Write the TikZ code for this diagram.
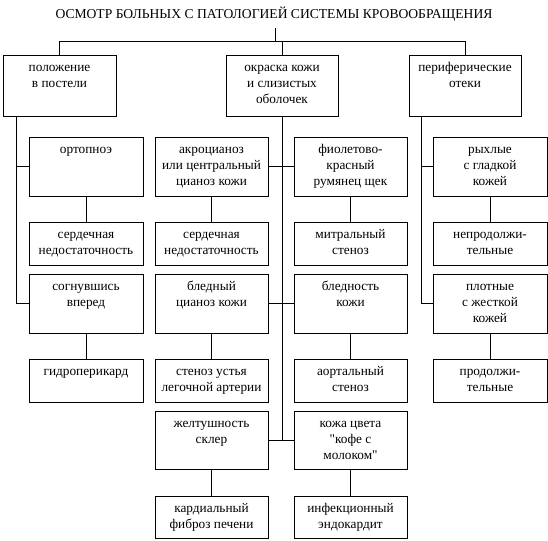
\documentclass[tikz,border=0pt]{standalone}
\usepackage{fontspec}
\setmainfont{Liberation Serif}[Ligatures=TeXOff]
\tikzset{
  boxst/.style={draw, line width=0.9pt, inner sep=0pt, rectangle},
  lbl/.style={inner sep=0pt, align=center, font={\fontsize{13.3}{15.7}\selectfont}},
  conn/.style={line width=0.9pt},
}
\newcommand\mybox[6]{%
  \node[boxst, minimum width={(#4-#2)*1pt}, minimum height={(#5-#3)*1pt}] (#1) at ({(#2+#4)/2},{(#3+#5)/2}) {};
  \node[lbl, anchor=north] (#1l) at ([yshift=-6pt]#1.north) {\strut #6};
}
\begin{document}
\begin{tikzpicture}[x=1pt,y=-1pt]
\useasboundingbox (0,0) rectangle (548,540);
\node[inner sep=0pt, font={\fontsize{13.6}{16}\selectfont}] (t) at (274,14) {ОСМОТР БОЛЬНЫХ С ПАТОЛОГИЕЙ СИСТЕМЫ КРОВООБРАЩЕНИЯ};
% top
\mybox{b1}{3}{55}{116}{116}{положение\\в постели}
\mybox{b2}{226}{55}{338}{116}{окраска кожи\\и слизистых\\оболочек}
\mybox{b3}{409}{55}{521}{116}{периферические\\отеки}
% row 1
\mybox{r1a}{29}{137}{143}{196}{ортопноэ}
\mybox{r1b}{155}{137}{268}{196}{акроцианоз\\или центральный\\цианоз кожи}
\mybox{r1c}{294}{137}{407}{196}{фиолетово-\\красный\\румянец щек}
\mybox{r1d}{433}{137}{547}{196}{рыхлые\\с гладкой\\кожей}
\mybox{k1a}{29}{222}{143}{265}{сердечная\\недостаточность}
\mybox{k1b}{155}{222}{268}{265}{сердечная\\недостаточность}
\mybox{k1c}{294}{222}{407}{265}{митральный\\стеноз}
\mybox{k1d}{433}{222}{547}{265}{непродолжи-\\тельные}
% row 2
\mybox{r2a}{29}{274}{143}{333}{согнувшись\\вперед}
\mybox{r2b}{155}{274}{268}{333}{бледный\\цианоз кожи}
\mybox{r2c}{294}{274}{407}{333}{бледность\\кожи}
\mybox{r2d}{433}{274}{547}{333}{плотные\\с жесткой\\кожей}
\mybox{k2a}{29}{359}{143}{402}{гидроперикард}
\mybox{k2b}{155}{359}{268}{402}{стеноз устья\\легочной артерии}
\mybox{k2c}{294}{359}{407}{402}{аортальный\\стеноз}
\mybox{k2d}{433}{359}{547}{402}{продолжи-\\тельные}
% row 3
\mybox{r3a}{155}{411}{268}{469}{желтушность\\склер}
\mybox{r3b}{294}{411}{407}{469}{кожа цвета\\"кофе с\\молоком"}
\mybox{k3a}{155}{496}{268}{538}{кардиальный\\фиброз печени}
\mybox{k3b}{294}{496}{407}{538}{инфекционный\\эндокардит}
% connectors
\coordinate (ts) at (275,28);
\coordinate (j0) at (275,41);
\coordinate (ls) at (16,0);
\coordinate (rs) at (421,0);
\draw[conn] (ts) -- (j0);
\draw[conn] (b1.north) -- (b1.north |- j0) -- (b3.north |- j0) -- (b3.north);
\draw[conn] (b2.north) -- (b2.north |- j0);
\draw[conn] (b1.south -| ls) -- (ls |- r2a.west) -- (r2a.west);
\draw[conn] (ls |- r1a.west) -- (r1a.west);
\draw[conn] (b2.south) -- (b2.south |- r3a.east);
\draw[conn] (r1b.east) -- (r1c.west);
\draw[conn] (r2b.east) -- (r2c.west);
\draw[conn] (r3a.east) -- (r3b.west);
\draw[conn] (b3.south -| rs) -- (rs |- r2d.west) -- (r2d.west);
\draw[conn] (rs |- r1d.west) -- (r1d.west);
\foreach \a/\b in {r1a/k1a,r1b/k1b,r1c/k1c,r1d/k1d,r2a/k2a,r2b/k2b,r2c/k2c,r2d/k2d,r3a/k3a,r3b/k3b}
  \draw[conn] (\a.south) -- (\b.north);
\end{tikzpicture}
\end{document}
